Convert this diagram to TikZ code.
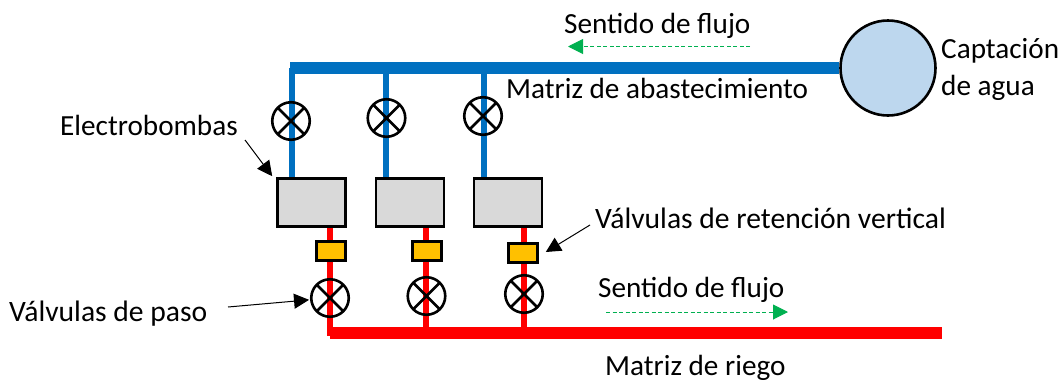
\documentclass[tikz,border=0pt]{standalone}
\usepackage{fontspec}
\setmainfont{Carlito}
\usetikzlibrary{arrows.meta,calc}
\definecolor{pipeblue}{HTML}{0070C0}
\definecolor{pipered}{HTML}{FF0000}
\definecolor{pumpgray}{HTML}{D9D9D9}
\definecolor{checkyellow}{HTML}{FFC000}
\definecolor{flowgreen}{HTML}{00B050}
\definecolor{tankblue}{HTML}{BDD7EE}
\tikzset{
  label text/.style={inner sep=0pt,font=\fontsize{29.2}{34}\selectfont,anchor=base west,text=black},
  wide text/.style={label text,font=\fontsize{29.6}{34}\selectfont},
  main blue/.style={draw=pipeblue,line width=12pt},
  branch blue/.style={draw=pipeblue,line width=6pt},
  main red/.style={draw=pipered,line width=12pt},
  branch red/.style={draw=pipered,line width=6pt},
  pumpbox/.style={draw=black,line width=2.6pt,fill=pumpgray,minimum width=68pt,minimum height=48pt,inner sep=0pt},
  checkbox/.style={draw=black,line width=2.6pt,fill=checkyellow,minimum width=29pt,minimum height=19pt,inner sep=0pt},
  valve/.style={circle,draw=black,line width=2.6pt,minimum size=37.5pt,inner sep=0pt,
    path picture={\draw[black,line width=2.6pt]
      (path picture bounding box.north west)--(path picture bounding box.south east)
      (path picture bounding box.north east)--(path picture bounding box.south west);}},
  pointer/.style={draw=black,line width=1pt,-{Triangle[length=15pt,width=15pt]}},
  flow/.style={draw=flowgreen,line width=1pt,dash pattern=on 4pt off 2.5pt,-{Triangle[length=15pt,width=15pt]}}
}
\begin{document}
\begin{tikzpicture}[x=1pt,y=-1pt]
\useasboundingbox (0,0) rectangle (1063,381);
% coordinates
\coordinate (bs) at (290,68);
\coordinate (b1) at (292,68);
\coordinate (b2) at (386,68);
\coordinate (b3) at (484,68);
\coordinate (rs) at (330,333);
\coordinate (r1) at (330,336);
\coordinate (r2) at (426,333);
\coordinate (r3) at (524,333);
\coordinate (re) at (942,333);
% pumps and check valves (positions)
\node[pumpbox] (p1) at (311.5,202.5) {};
\node[pumpbox] (p2) at (410,202.5) {};
\node[pumpbox] (p3) at (508,202.5) {};
\node[checkbox] (c1) at (331,251) {};
\node[checkbox] (c2) at (427,251) {};
\node[checkbox] (c3) at (523,253) {};
% tank
\node[circle,draw=black,line width=2.6pt,fill=tankblue,minimum size=95pt,inner sep=0pt] (tank) at (888,68) {};
% pipes
\draw[branch blue] (b1) -- (b1 |- p1.north);
\draw[branch blue] (b2) -- (b2 |- p2.north);
\draw[branch blue] (b3) -- (b3 |- p3.north);
\draw[main blue] (bs) -- (tank.west);
\draw[branch red] (p1.south -| r1) -- (r1);
\draw[branch red] (p2.south -| r2) -- (r2);
\draw[branch red] (p3.south -| r3) -- (r3);
\draw[main red] (rs) -- (re);
% redraw boxes above pipes
\node[pumpbox] at (p1) {};
\node[pumpbox] at (p2) {};
\node[pumpbox] at (p3) {};
\node[checkbox] at (c1) {};
\node[checkbox] at (c2) {};
\node[checkbox] at (c3) {};
% valves
\node[valve] (v1) at (291,121) {};
\node[valve] (v2) at (386.5,118) {};
\node[valve] (v3) at (483,116) {};
\node[valve] (v4) at (330,298) {};
\node[valve] (v5) at (426.5,296) {};
\node[valve] (v6) at (524,294) {};
% labels
\node[label text] (t1) at (564,33.5) {Sentido de flujo};
\node[label text] (t2) at (506,98) {Matriz de abastecimiento};
\node[label text] (t3) at (941,58) {Captación};
\node[label text] (t4) at (941,95) {de agua};
\node[label text] (t5) at (60,135) {Electrobombas};
\node[wide text] (t6) at (595,228) {Válvulas de retención vertical};
\node[label text] (t7) at (598,297.5) {Sentido de flujo};
\node[wide text] (t8) at (9,321) {Válvulas de paso};
\node[label text] (t9) at (605,375.5) {Matriz de riego};
% pointers
\coordinate (a1) at (245,140);
\coordinate (a2) at (228,307);
\coordinate (a3) at (590,225);
\draw[pointer] (a1) -- ($(p1.north west)+(-4,-1)$);
\draw[pointer,shorten >=1pt] (a2) -- (v4);
\draw[pointer] (a3) -- ($(c3.east)+(7,-1)$);
% flow arrows
\coordinate (f1s) at (750,46.5);
\coordinate (f1e) at (568,46.5);
\coordinate (f2s) at (606,312);
\coordinate (f2e) at (788,312);
\draw[flow] (f1s) -- (f1e);
\draw[flow] (f2s) -- (f2e);
\end{tikzpicture}
\end{document}
